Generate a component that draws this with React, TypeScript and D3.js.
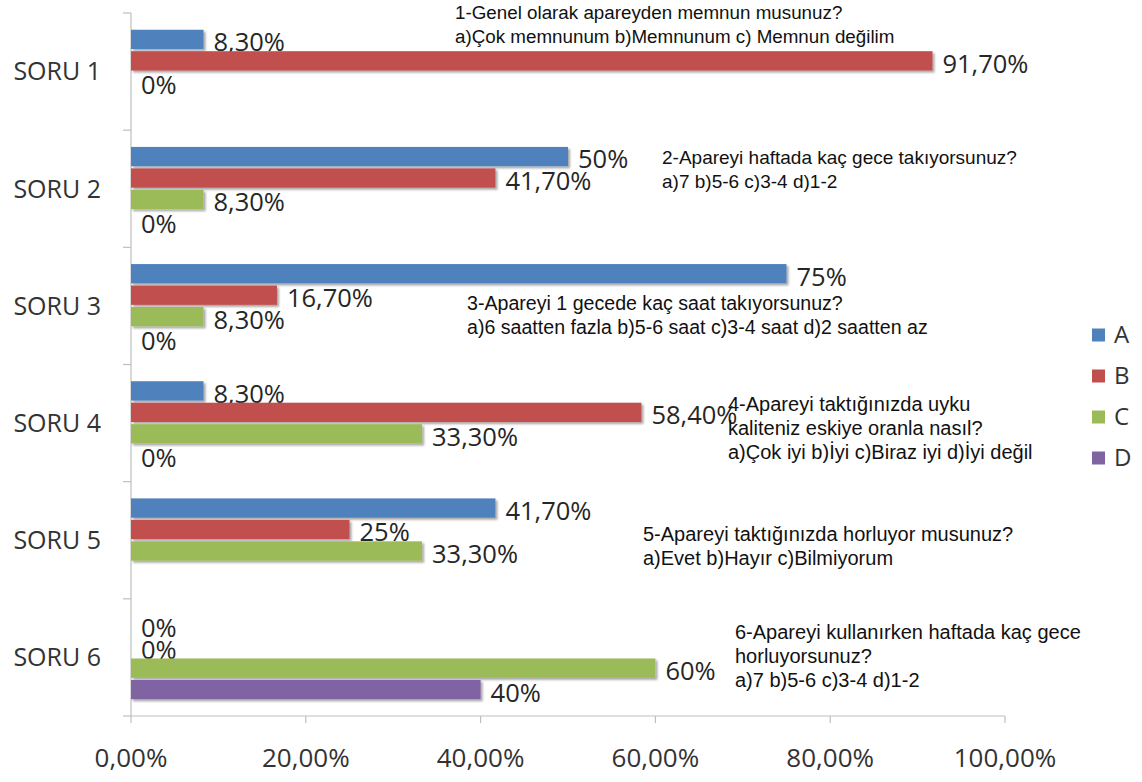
import React from "react";
import * as d3 from "d3";

const categories = ["SORU 1", "SORU 2", "SORU 3", "SORU 4", "SORU 5", "SORU 6"];
const seriesNames = ["A", "B", "C", "D"];
const seriesA: (number | null)[] = [8.3, 50, 75, 8.3, 41.7, 0];
const seriesB: (number | null)[] = [91.7, 41.7, 16.7, 58.4, 25, 0];
const seriesC: (number | null)[] = [0, 8.3, 8.3, 33.3, 33.3, 60];
const seriesD: (number | null)[] = [null, 0, 0, 0, null, 40];
const xTicks = [0, 20, 40, 60, 80, 100];
const colors = ["#4F81BD", "#C0504D", "#9BBB59", "#8064A2"];

const questions: string[][] = [
  ["1-Genel olarak apareyden memnun musunuz?", "a)Çok memnunum b)Memnunum c) Memnun değilim"],
  ["2-Apareyi haftada kaç gece takıyorsunuz?", "a)7 b)5-6 c)3-4 d)1-2"],
  ["3-Apareyi 1 gecede kaç saat takıyorsunuz?", "a)6 saatten fazla b)5-6 saat c)3-4 saat d)2 saatten az"],
  ["4-Apareyi taktığınızda uyku", "kaliteniz eskiye oranla nasıl?", "a)Çok iyi b)İyi c)Biraz iyi d)İyi değil"],
  ["5-Apareyi taktığınızda horluyor musunuz?", "a)Evet b)Hayır c)Bilmiyorum"],
  ["6-Apareyi kullanırken haftada kaç gece", "horluyorsunuz?", "a)7 b)5-6 c)3-4 d)1-2"],
];
// annotation anchor (left x, first line center y) and font size
const questionX = [455, 662, 467, 728, 643, 735];
const questionY = [12, 157, 303, 404, 534, 632];
const questionSize = [18.8, 19, 19.6, 20, 20, 20];

const W = 1142;
const H = 782;

function fmtVal(v: number) {
  if (Number.isInteger(v)) return `${v}%`;
  return v.toFixed(2).replace(".", ",") + "%";
}
function fmtTick(v: number) {
  return v.toFixed(2).replace(".", ",") + "%";
}

export default function App() {
  const x = d3.scaleLinear().domain([0, 100]).range([131, 1005]);
  const y0 = d3.scaleBand<string>().domain(categories).range([13, 716]).padding(0);
  const y1 = d3
    .scaleBand<string>()
    .domain(seriesNames)
    .range([0, y0.bandwidth()])
    .paddingInner(0.1)
    .paddingOuter(0.78);
  const all = [seriesA, seriesB, seriesC, seriesD];
  const labelFont = "'Open Sans', 'DejaVu Sans', sans-serif";
  const annFont = "'Liberation Sans', Arial, sans-serif";
  const bandEdges = categories.map((c) => y0(c)!).concat([716]);

  return (
    <svg width={W} height={H} style={{ position: "absolute", left: 0, top: 0, background: "#fff" }}>
      <defs>
        <filter id="shadow" x="-5%" y="-50%" width="110%" height="200%">
          <feDropShadow dx="2" dy="2" stdDeviation="1.2" floodColor="#000" floodOpacity="0.35" />
        </filter>
      </defs>
      {/* axes */}
      <line x1={131} x2={131} y1={13} y2={716} stroke="#BFBFBF" strokeWidth={1.2} />
      {bandEdges.map((e, i) => (
        <line key={"yt" + i} x1={123} x2={131} y1={e} y2={e} stroke="#BFBFBF" strokeWidth={1.2} />
      ))}
      <line x1={131} x2={x(100)} y1={716} y2={716} stroke="#BFBFBF" strokeWidth={1.2} />
      {xTicks.map((t) => (
        <g key={"xt" + t}>
          <line x1={x(t)} x2={x(t)} y1={716} y2={723} stroke="#BFBFBF" strokeWidth={1.2} />
          <text
            x={x(t)}
            y={758}
            dy="0.35em"
            textAnchor="middle"
            fontFamily={labelFont}
            fontSize={26}
            fill="#333"
          >
            {fmtTick(t)}
          </text>
        </g>
      ))}
      {/* category labels */}
      {categories.map((c) => (
        <text
          key={c}
          x={101}
          y={y0(c)! + y0.bandwidth() / 2}
          dy="0.35em"
          textAnchor="end"
          fontFamily={labelFont}
          fontSize={25}
          fill="#333"
        >
          {c}
        </text>
      ))}
      {/* bars */}
      {categories.map((c, ci) =>
        all.map((s, si) => {
          const v = s[ci];
          if (v === null || v === undefined) return null;
          const yy = y0(c)! + y1(seriesNames[si])!;
          const h = y1.bandwidth();
          return (
            <g key={c + si}>
              {v > 0 && (
                <rect
                  x={x(0)}
                  y={yy}
                  width={x(v) - x(0)}
                  height={h}
                  fill={colors[si]}
                  filter="url(#shadow)"
                />
              )}
              <text
                x={x(v) + 10}
                y={yy + h / 2 + 3}
                dy="0.35em"
                fontFamily={labelFont}
                fontSize={25.5}
                fill="#262626"
              >
                {fmtVal(v)}
              </text>
            </g>
          );
        })
      )}
      {/* question annotations */}
      {questions.map((lines, qi) => (
        <text key={"q" + qi} fontFamily={annFont} fontSize={questionSize[qi]} fill="#111">
          {lines.map((l, li) => (
            <tspan key={li} x={questionX[qi]} y={questionY[qi] + li * 24} dy="0.35em">
              {l}
            </tspan>
          ))}
        </text>
      ))}
      {/* legend */}
      {seriesNames.map((n, i) => {
        const ly = [335, 376, 417, 458][i];
        return (
          <g key={"lg" + n}>
            <rect x={1092} y={ly - 6.5} width={13} height={13} fill={colors[i]} />
            <text x={1114} y={ly} dy="0.35em" fontFamily={labelFont} fontSize={24} fill="#333">
              {n}
            </text>
          </g>
        );
      })}
    </svg>
  );
}
